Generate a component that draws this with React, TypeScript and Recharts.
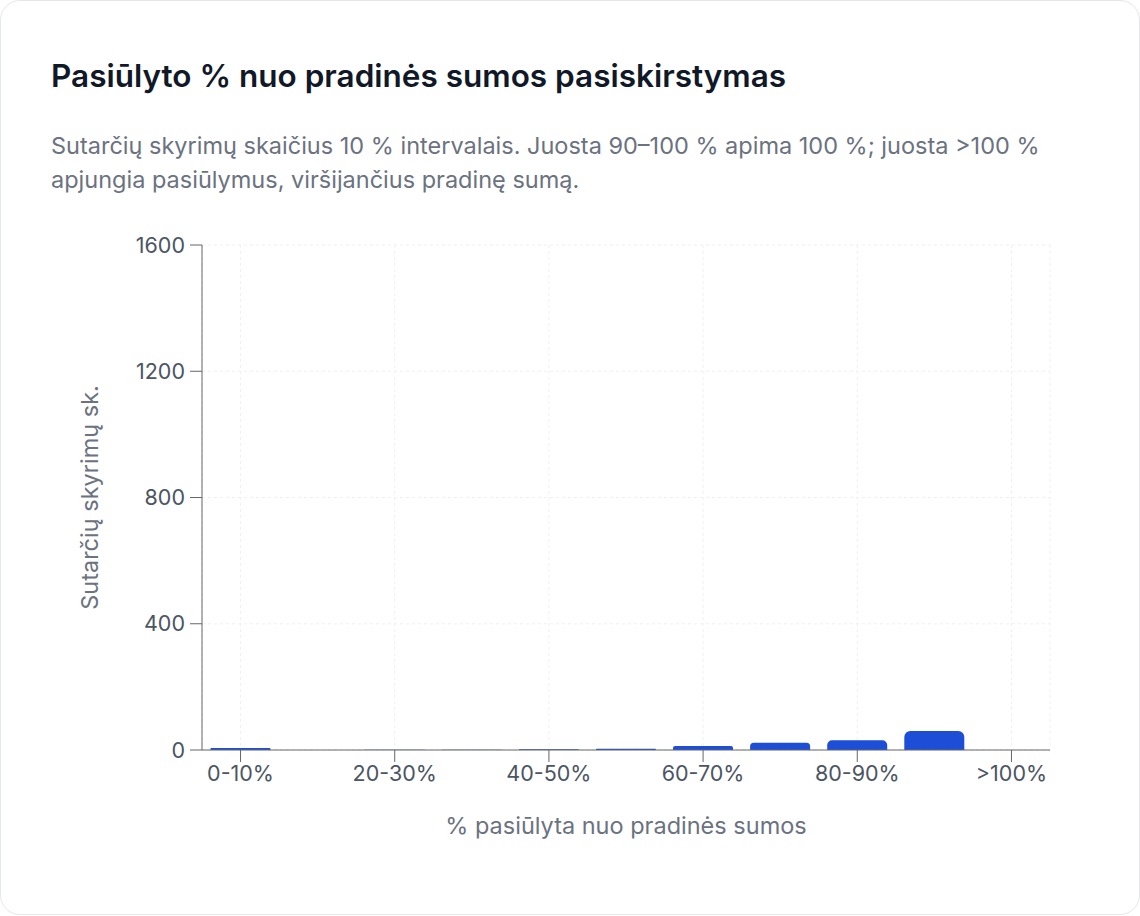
import React from 'react'
import { BarChart, Bar, XAxis, YAxis, CartesianGrid, Label } from 'recharts'

const categories = ['0-10%', '10-20%', '20-30%', '30-40%', '40-50%', '50-60%', '60-70%', '70-80%', '80-90%', '90-100%', '>100%']
const counts = [6, 0, 1, 1, 2, 4, 13, 23, 31, 60, 0]
const yTicks = [0, 400, 800, 1200, 1600]

const data = categories.map((range, i) => ({ range, count: counts[i] }))

const FONT = 'Inter, "Noto Sans", sans-serif'

export default function App() {
    return (
        <div style={{ position: 'absolute', left: 0, top: 0, width: 1140, height: 916, background: '#fff', fontFamily: FONT }}>
            <style>{'body{margin:0}'}</style>
            <div
                style={{
                    position: 'absolute',
                    left: 0,
                    top: 0,
                    width: 1138,
                    height: 913,
                    border: '1px solid #e5e7eb',
                    borderRadius: 20,
                    background: '#fff',
                }}
            >
                <h2
                    style={{
                        position: 'absolute',
                        left: 50,
                        top: 55,
                        margin: 0,
                        fontSize: 31.5,
                        lineHeight: '40px',
                        fontWeight: 600,
                        color: '#111827',
                    }}
                >
                    Pasiūlyto % nuo pradinės sumos pasiskirstymas
                </h2>
                <p
                    style={{
                        position: 'absolute',
                        left: 50,
                        top: 128,
                        width: 1020,
                        margin: 0,
                        fontSize: 23.5,
                        lineHeight: '34px',
                        color: '#6b7280',
                    }}
                >
                    Sutarčių skyrimų skaičius 10 % intervalais. Juosta 90–100 % apima 100 %; juosta &gt;100 % apjungia pasiūlymus, viršijančius pradinę sumą.
                </p>
                <div style={{ position: 'absolute', left: -1, top: 219 }}>
                    <BarChart
                        width={1140}
                        height={630}
                        data={data}
                        margin={{ top: 25, right: 90, bottom: 10, left: 85 }}
                        barCategoryGap="11%"
                    >
                        <CartesianGrid stroke="#eef0f3" strokeDasharray="3 3" />
                        <XAxis
                            dataKey="range"
                            interval={1}
                            height={90}
                            tickSize={12}
                            tickMargin={4}
                            stroke="#666"
                            tick={{ fill: '#4b5563', fontSize: 21.5, fontFamily: FONT }}
                        >
                            <Label
                                value="% pasiūlyta nuo pradinės sumos"
                                position="insideBottom"
                                offset={6}
                                style={{ fill: '#6b7280', fontSize: 23.5, fontFamily: FONT }}
                            />
                        </XAxis>
                        <YAxis
                            domain={[0, 1600]}
                            ticks={yTicks}
                            width={117}
                            tickSize={12}
                            tickMargin={5}
                            stroke="#666"
                            tick={{ fill: '#4b5563', fontSize: 21.5, fontFamily: FONT }}
                        >
                            <Label
                                value="Sutarčių skyrimų sk."
                                angle={-90}
                                position="insideLeft"
                                offset={5}
                                style={{ fill: '#6b7280', fontSize: 23.5, fontFamily: FONT, textAnchor: 'middle' }}
                            />
                        </YAxis>
                        <Bar dataKey="count" fill="#1d4ed8" radius={[6, 6, 0, 0]} isAnimationActive={false} />
                    </BarChart>
                </div>
            </div>
        </div>
    )
}
